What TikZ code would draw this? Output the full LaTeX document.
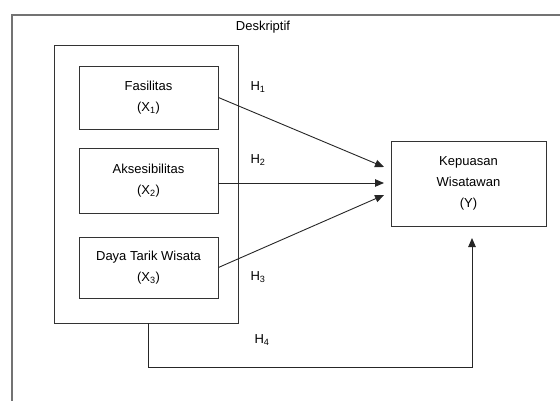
\documentclass[tikz,border=0pt]{standalone}
\usepackage{fontspec}
\setmainfont{Liberation Sans}
\usetikzlibrary{arrows.meta}
\tikzset{
  box/.style={draw=black!80, line width=0.9pt, align=center, inner sep=0pt,
    font=\fontsize{13}{21}\selectfont},
  lab/.style={font=\fontsize{13}{14}\selectfont, inner sep=0pt},
  arr/.style={draw=black!85, line width=0.9pt, -{Triangle[length=9pt,width=7.5pt]}},
}
\begin{document}
\begin{tikzpicture}[x=1pt,y=-1pt]
\useasboundingbox (0,0) rectangle (560,401);
% outer frame
\draw[black!55, line width=1.1pt] (12,401) -- (12,15) -- (560,15);
\node[lab] (desk) at (263,27) {Deskriptif};
% inner group box
\node[draw=black!80, line width=0.9pt, minimum width=184pt, minimum height=278pt, inner sep=0pt] (grp) at (146,184) {};
\node[box, minimum width=139pt, minimum height=63pt] (fas) at (148.5,97.5) {Fasilitas\\(X\textsubscript{1})};
\node[box, minimum width=139pt, minimum height=65pt] (aks) at (148.5,180.5) {Aksesibilitas\\(X\textsubscript{2})};
\node[box, minimum width=139pt, minimum height=61pt] (daya) at (148.5,267.5) {Daya Tarik Wisata\\(X\textsubscript{3})};
\node[box, minimum width=155pt, minimum height=85pt] (y) at (468.5,183.5) {Kepuasan\\Wisatawan\\(Y)};
% target coordinates
\coordinate (t1) at (384,167);
\coordinate (t2) at (384,183);
\coordinate (t3) at (384,195);
\coordinate (t4) at (472,238);
\coordinate (b1) at (148,367);
\coordinate (b2) at (472,367);
\draw[arr] (fas.east) -- (t1);
\draw[arr] (aks.east |- t2) -- (t2);
\draw[arr] (daya.east) -- (t3);
\draw[arr] (grp.south -| b1) -- (b1) -- (b2) -- (t4);
% labels
\node[lab] (h1) at (258,87) {H\textsubscript{1}};
\node[lab] (h2) at (258,160) {H\textsubscript{2}};
\node[lab] (h3) at (258,277) {H\textsubscript{3}};
\node[lab] (h4) at (262,340) {H\textsubscript{4}};
\end{tikzpicture}
\end{document}
